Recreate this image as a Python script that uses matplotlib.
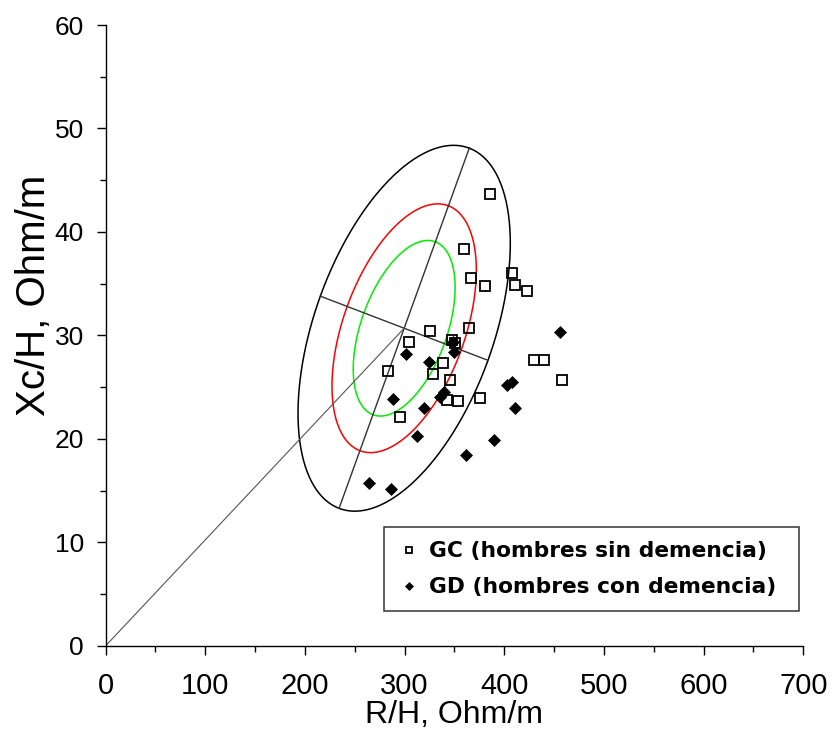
import numpy as np
import matplotlib
matplotlib.use("Agg")
import matplotlib.pyplot as plt

# puntos (R/H, Xc/H en Ohm/m)
gc_rh = [385.7, 359.9, 366.6, 380.9, 407.7, 410.7, 423.1, 364.9, 325.8, 304.7, 347.2, 350.5,
         430.1, 439.5, 338.5, 283.7, 328.8, 345.5, 457.6, 342.5, 353.3, 375.9, 295.1]
gc_xch = [43.7, 38.4, 35.6, 34.8, 36.0, 34.9, 34.3, 30.7, 30.4, 29.4, 29.6, 29.3,
          27.6, 27.6, 27.3, 26.6, 26.3, 25.7, 25.7, 23.8, 23.7, 24.0, 22.1]
gd_rh = [455.9, 348.2, 349.2, 301.4, 324.2, 407.4, 403.0, 339.5, 335.5, 288.7, 319.2, 410.7,
         312.7, 389.4, 361.7, 264.0, 286.5]
gd_xch = [30.3, 29.4, 28.4, 28.2, 27.4, 25.5, 25.2, 24.5, 24.1, 23.9, 23.0, 23.0,
          20.3, 19.9, 18.5, 15.7, 15.2]

# elipses de tolerancia (95%, 75%, 50%)
ell_center = (299.6, 30.7)
ell_major_end = (364.9, 48.1)
ell_minor_end = (383.7, 27.6)
ell_scales = [1.0, 0.68, 0.48]
ell_colors = ["black", "red", "#00ee00"]

labels = ["GC (hombres sin demencia)", "GD (hombres con demencia)"]

plt.rcParams["font.family"] = ["Liberation Sans", "DejaVu Sans"]

fig = plt.figure(figsize=(8.34, 7.31), dpi=100)
ax = fig.add_axes([0.1265, 0.1163, 0.8367, 0.8495])

cx, cy = ell_center
u = np.array(ell_major_end) - np.array(ell_center)
v = np.array(ell_minor_end) - np.array(ell_center)
t = np.linspace(0, 2 * np.pi, 400)
for s, c in zip(ell_scales, ell_colors):
    ex = cx + s * (u[0] * np.cos(t) + v[0] * np.sin(t))
    ey = cy + s * (u[1] * np.cos(t) + v[1] * np.sin(t))
    ax.plot(ex, ey, color=c, lw=1.1, zorder=2)

# ejes de la elipse y vector desde el origen
ax.plot([cx - u[0], cx + u[0]], [cy - u[1], cy + u[1]], color="#333333", lw=1.0, zorder=2)
ax.plot([cx - v[0], cx + v[0]], [cy - v[1], cy + v[1]], color="#333333", lw=1.0, zorder=2)
ax.plot([0, cx], [0, cy], color="#555555", lw=0.8, zorder=2)

h1, = ax.plot(gc_rh, gc_xch, ls="none", marker="s", ms=6.5, mfc="none", mec="black",
              mew=1.3, zorder=3, label=labels[0])
h2, = ax.plot(gd_rh, gd_xch, ls="none", marker="D", ms=6.3, mfc="black", mec="black",
              mew=0.5, zorder=4, label=labels[1])

ax.set_xlim(0, 700)
ax.set_ylim(0, 60)
ax.set_xticks(np.arange(0, 701, 100))
ax.set_xticks(np.arange(50, 700, 100), minor=True)
ax.set_yticks(np.arange(0, 61, 10))
ax.set_yticks(np.arange(5, 60, 10), minor=True)
ax.spines["top"].set_visible(False)
ax.spines["right"].set_visible(False)
for sp in ("left", "bottom"):
    ax.spines[sp].set_linewidth(1.0)
ax.tick_params(which="major", direction="out", length=6.5, width=1.0)
ax.tick_params(which="minor", direction="out", length=4.5, width=1.0)
ax.tick_params(axis="x", which="major", labelsize=21, pad=12)
ax.tick_params(axis="y", which="major", labelsize=19, pad=9)

ax.set_xlabel("R/H, Ohm/m", fontsize=23, labelpad=0)
ax.set_ylabel("Xc/H, Ohm/m", fontsize=29)
ax.yaxis.set_label_coords(-0.075, 0.565)

leg = ax.legend(handles=[h1, h2], loc="upper left",
                bbox_to_anchor=(0.3991, 0.1911, 0.5952, 0), mode="expand",
                borderaxespad=0, prop={"family": "DejaVu Sans", "weight": "bold", "size": 15.7},
                markerscale=0.72, handlelength=1.0, handletextpad=0.4, labelspacing=0.72,
                borderpad=0.65, fancybox=False, framealpha=1, edgecolor="#333333")
leg.get_frame().set_linewidth(1.1)

fig.savefig("out.png", dpi=100)
